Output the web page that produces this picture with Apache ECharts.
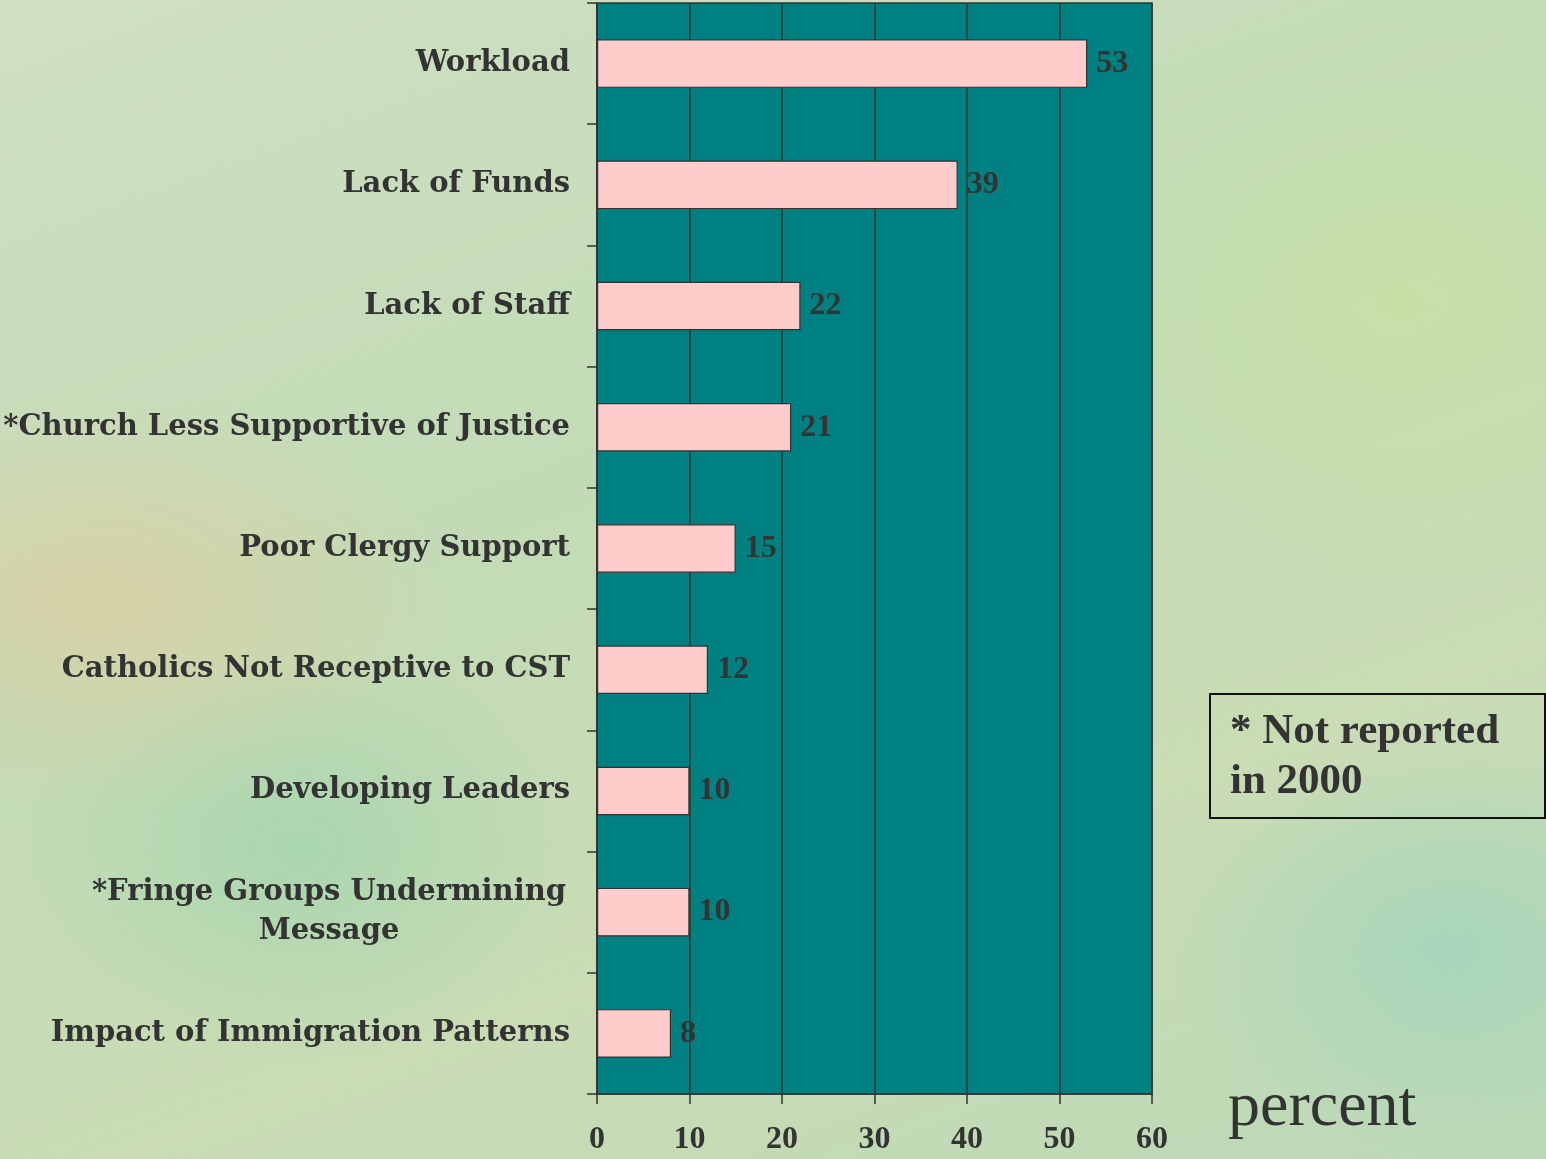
<!DOCTYPE html>
<html>
<head>
<meta charset="utf-8">
<script src="https://cdn.jsdelivr.net/npm/echarts@6/dist/echarts.min.js"></script>
<style>
  html, body { margin: 0; padding: 0; }
  body {
    width: 1546px; height: 1159px; overflow: hidden;
    background:
      radial-gradient(ellipse 500px 300px at 100px 600px, rgba(225, 205, 160, 0.7), rgba(225, 205, 160, 0) 70%),
      radial-gradient(ellipse 400px 300px at 300px 850px, rgba(150, 210, 170, 0.6), rgba(150, 210, 170, 0) 70%),
      radial-gradient(ellipse 500px 400px at 1400px 300px, rgba(200, 225, 160, 0.7), rgba(200, 225, 160, 0) 70%),
      radial-gradient(ellipse 400px 300px at 1450px 950px, rgba(150, 210, 190, 0.6), rgba(150, 210, 190, 0) 70%),
      linear-gradient(160deg, #cfe0c2 0%, #c2dbb6 40%, #c9dcb4 70%, #bcd9b7 100%);
  }
  #chart { width: 1546px; height: 1159px; }
</style>
</head>
<body>
<div id="chart"></div>
<script>
// categories top to bottom
const categories = [
  'Workload',
  'Lack of Funds',
  'Lack of Staff',
  '*Church Less Supportive of Justice',
  'Poor Clergy Support',
  'Catholics Not Receptive to CST',
  'Developing Leaders',
  '*Fringe Groups Undermining\nMessage',
  'Impact of Immigration Patterns'
]
const values = [53, 39, 22, 21, 15, 12, 10, 10, 8]
const xTicks = [0, 10, 20, 30, 40, 50, 60]

const textColor = '#333333'
const serif = '"Liberation Serif", "DejaVu Serif", serif'
// the category labels in the original are letter-spaced; a wider serif gets the width
const wideSerif = '"DejaVu Serif", "Liberation Serif", serif'

const chart = echarts.init(document.getElementById('chart'))

chart.setOption({
  backgroundColor: 'transparent',
  animation: false,
  grid: {
    left: 597,
    top: 3,
    right: 394,
    bottom: 65,
    show: true,
    backgroundColor: '#008080',
    borderColor: textColor,
    borderWidth: 1.5,
    containLabel: false,
  },
  xAxis: {
    type: 'value',
    min: xTicks[0],
    max: xTicks[xTicks.length - 1],
    interval: 10,
    axisLine: { show: true, lineStyle: { color: textColor, width: 1.5 } },
    axisTick: { show: true, length: 10, lineStyle: { color: textColor, width: 1.5 } },
    splitLine: { show: true, lineStyle: { color: textColor, width: 1.5 } },
    axisLabel: {
      margin: 30,
      color: textColor,
      fontFamily: serif,
      fontWeight: 'bold',
      fontSize: 32,
    },
  },
  yAxis: {
    type: 'category',
    data: categories,
    inverse: true,
    axisLine: { show: true, lineStyle: { color: textColor, width: 1.5 } },
    axisTick: { show: true, length: 10, lineStyle: { color: textColor, width: 1.5 } },
    axisLabel: {
      margin: 27,
      color: textColor,
      fontFamily: wideSerif,
      fontWeight: 'bold',
      fontSize: 29,
      align: 'right',
      lineHeight: 39,
      formatter: (v) => {
        // second line of the wrapped label is centred under the first
        if (v.indexOf('\n') > -1) return '{c|' + v + '}'
        return v
      },
      rich: {
        c: {
          color: textColor,
          fontFamily: wideSerif,
          fontWeight: 'bold',
          fontSize: 29,
          lineHeight: 39,
          align: 'center',
          width: 482,
        },
      },
    },
  },
  series: [
    {
      type: 'bar',
      data: values,
      barWidth: '40%',
      itemStyle: {
        color: '#ffcccc',
        borderColor: textColor,
        borderWidth: 1.2,
      },
      label: {
        show: true,
        position: 'right',
        distance: 9,
        color: textColor,
        fontFamily: serif,
        fontWeight: 'bold',
        fontSize: 32,
      },
    },
  ],
  graphic: [
    {
      type: 'rect',
      shape: { x: 1210, y: 694, width: 335, height: 124 },
      style: { fill: 'transparent', stroke: '#111', lineWidth: 2 },
    },
    {
      type: 'text',
      x: 1230,
      y: 707,
      style: {
        text: '* Not reported\nin 2000',
        fill: textColor,
        font: 'bold 43px ' + serif,
        lineHeight: 50,
      },
    },
    {
      type: 'text',
      x: 1228,
      y: 1076,
      style: {
        text: 'percent',
        fill: textColor,
        font: '64px ' + serif,
      },
    },
  ],
})

window.addEventListener('resize', () => {
  chart.resize()
})
</script>
</body>
</html>
